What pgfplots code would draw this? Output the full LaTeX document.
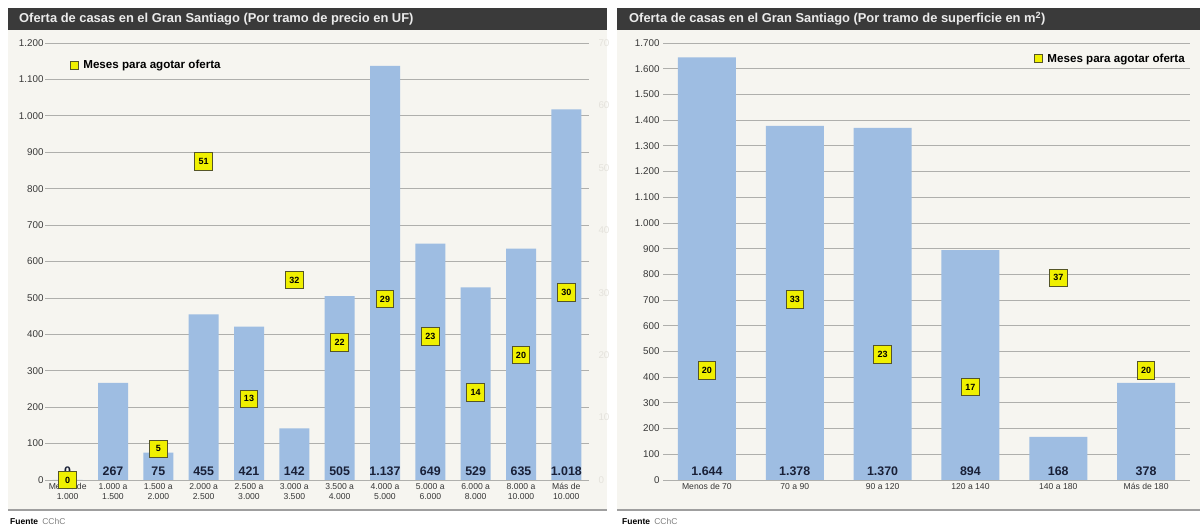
\documentclass[border=0pt]{standalone}
\usepackage{fontspec}
\setmainfont{Liberation Sans}
\usepackage{pgfplots}
\pgfplotsset{compat=1.18}
\definecolor{headbg}{RGB}{58,58,58}
\definecolor{panelbg}{RGB}{246,245,240}
\definecolor{barc}{RGB}{158,189,226}
\definecolor{gridc}{RGB}{175,175,172}
\definecolor{myyel}{RGB}{240,240,0}
\definecolor{mybord}{RGB}{85,85,40}
\definecolor{labc}{RGB}{25,32,55}
\definecolor{tickc}{RGB}{55,55,55}
\definecolor{faintc}{RGB}{228,226,220}
\newcommand{\tickfont}{\fontsize{9.8}{10}\selectfont}
\newcommand{\xfont}{\fontsize{8.6}{10}\selectfont}
\newcommand{\barfont}{\fontsize{12.4}{12}\selectfont\bfseries}
\newcommand{\markfont}{\fontsize{9}{9}\selectfont\bfseries}
\newcommand{\legfont}{\fontsize{11.6}{12}\selectfont\bfseries}
\newcommand{\titfont}{\fontsize{12.9}{13}\selectfont\bfseries}
\pgfplotsset{
  /pgf/number format/1000 sep={.},
  /pgf/number format/assume math mode=true,
  mybase/.style={
    anchor=south west, scale only axis, clip=false,
    major tick length=0pt, axis line style={draw=none},
    scaled y ticks=false,
    y tick label style={font=\tickfont, text=tickc},
    x tick label style={font=\xfont, text=tickc, align=center},
  },
  marknode/.style={draw=none, mark=none, nodes near coords, nodes near coords align=center,
    every node near coord/.append style={fill=myyel, draw=mybord, line width=1pt,
      minimum size=17.5pt, inner sep=0pt, font=\markfont, text=black}},
  barlab/.style={draw=none, mark=none, nodes near coords, point meta=explicit,
    nodes near coords align=center,
    every node near coord/.append style={yshift=9pt, font=\barfont, text=labc}},
  myleg/.style={legend style={draw=none, fill=none, font=\legfont, legend cell align=left},
    legend image code/.code={\draw[fill=myyel, draw=mybord, line width=0.8pt] (0pt,-3.8pt) rectangle (7.6pt,3.8pt);
      \path (11pt,0pt);}},
}
\begin{document}
\begin{tikzpicture}[x=1pt,y=1pt]
\useasboundingbox (0pt,0pt) rectangle (1202pt,526pt);
% left panel
\fill[panelbg] (8pt,16pt) rectangle (607pt,496pt);
\fill[headbg] (8pt,496pt) rectangle (607pt,518pt);
\node[anchor=west, text=white!92!black, font=\titfont, inner sep=0pt] at (19pt,507pt) {Oferta de casas en el Gran Santiago (Por tramo de precio en UF)};
\draw[gray!75, line width=1.6pt] (8pt,16pt) -- (607pt,16pt);
\node[anchor=base west, font=\fontsize{8.5}{9}\selectfont, inner sep=0pt] at (10pt,1pt) {\textbf{Fuente}\enspace\textcolor{gray}{CChC}};
% right panel
\fill[panelbg] (617pt,16pt) rectangle (1200pt,496pt);
\fill[headbg] (617pt,496pt) rectangle (1200pt,518pt);
\node[anchor=west, text=white!92!black, font=\titfont, inner sep=0pt] at (629pt,507pt) {Oferta de casas en el Gran Santiago (Por tramo de superficie en m\textsuperscript{2})};
\draw[gray!75, line width=1.6pt] (617pt,16pt) -- (1200pt,16pt);
\node[anchor=base west, font=\fontsize{8.5}{9}\selectfont, inner sep=0pt] at (622pt,1pt) {\textbf{Fuente}\enspace\textcolor{gray}{CChC}};

% ---------- left chart, primary
\begin{axis}[mybase, at={(45pt,46pt)}, width=544pt, height=437pt,
  xmin=-0.5, xmax=11.5, ymin=0, ymax=1200,
  ytick={0,100,...,1200}, ymajorgrids, grid style={gridc, line width=0.8pt},
  y tick label style={xshift=2pt},
  xtick={0,...,11},
  xticklabels={Menos de\\1.000, 1.000 a\\1.500, 1.500 a\\2.000, 2.000 a\\2.500, 2.500 a\\3.000, 3.000 a\\3.500, 3.500 a\\4.000, 4.000 a\\5.000, 5.000 a\\6.000, 6.000 a\\8.000, 8.000 a\\10.000, Más de\\10.000},
  ]
\addplot[ybar, bar width=30pt, bar shift=0pt, fill=barc, draw=none] coordinates {
  (0,0) (1,267) (2,75) (3,455) (4,421) (5,142) (6,505) (7,1137) (8,649) (9,529) (10,635) (11,1018)};
\addplot[barlab] coordinates {
  (0,0)[0] (1,0)[267] (2,0)[75] (3,0)[455] (4,0)[421] (5,0)[142] (6,0)[505] (7,0)[1137] (8,0)[649] (9,0)[529] (10,0)[635] (11,0)[1018]};
\end{axis}
% ---------- left chart, secondary
\begin{axis}[mybase, myleg, at={(45pt,46pt)}, width=544pt, height=437pt,
  xmin=-0.5, xmax=11.5, ymin=0, ymax=70,
  axis x line=none, axis y line*=right, axis line style={draw=none},
  ytick={0,10,...,70}, y tick label style={text=faintc, xshift=6pt},
  legend style={at={(0.04,0.97)}, anchor=north west},
  ]
\addplot[marknode] coordinates {(0,0) (2,5) (3,51) (4,13) (5,32) (6,22) (7,29) (8,23) (9,14) (10,20) (11,30)};
\addlegendentry{Meses para agotar oferta}
\end{axis}

% ---------- right chart, primary
\begin{axis}[mybase, at={(663pt,46pt)}, width=527pt, height=437pt,
  xmin=-0.5, xmax=5.5, ymin=0, ymax=1700,
  ytick={0,100,...,1700}, ymajorgrids, grid style={gridc, line width=0.8pt},
  xtick={0,...,5},
  xticklabels={Menos de 70, 70 a 90, 90 a 120, 120 a 140, 140 a 180, Más de 180},
  ]
\addplot[ybar, bar width=58pt, bar shift=0pt, fill=barc, draw=none] coordinates {
  (0,1644) (1,1378) (2,1370) (3,894) (4,168) (5,378)};
\addplot[barlab] coordinates {
  (0,0)[1644] (1,0)[1378] (2,0)[1370] (3,0)[894] (4,0)[168] (5,0)[378]};
\end{axis}
% ---------- right chart, secondary
\begin{axis}[mybase, myleg, at={(663pt,46pt)}, width=527pt, height=437pt,
  xmin=-0.5, xmax=5.5, ymin=0, ymax=80,
  axis x line=none, axis y line*=right, axis line style={draw=none},
  ytick=\empty,
  legend style={at={(1.0,0.985)}, anchor=north east},
  ]
\addplot[marknode] coordinates {(0,20) (1,33) (2,23) (3,17) (4,37) (5,20)};
\addlegendentry{Meses para agotar oferta}
\end{axis}
\end{tikzpicture}
\end{document}
